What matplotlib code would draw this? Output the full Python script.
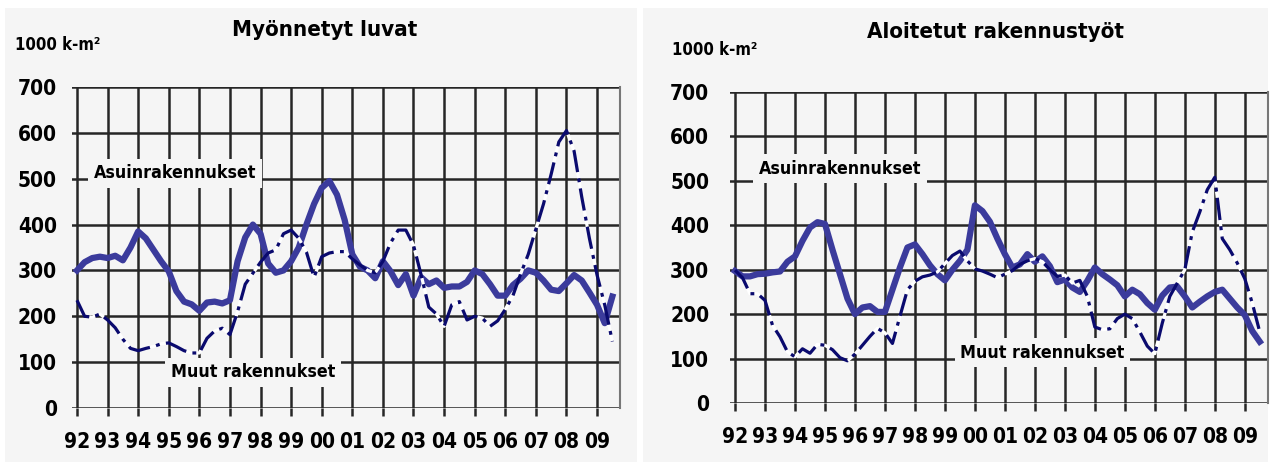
import numpy as np
import matplotlib
matplotlib.use("Agg")
import matplotlib.pyplot as plt
from matplotlib.patches import Rectangle

plt.rcParams["font.family"] = ["DejaVu Sans"]
plt.rcParams["font.stretch"] = "condensed"
plt.rcParams["font.weight"] = "bold"

# quarterly data 1992Q1 .. 2009Q3, 1000 k-m2
years = ["92", "93", "94", "95", "96", "97", "98", "99", "00",
         "01", "02", "03", "04", "05", "06", "07", "08", "09"]

# Myönnetyt luvat
permits_res = [300, 318, 327, 330, 327, 332, 322, 350, 385, 370, 345, 320,
               298, 255, 232, 226, 212, 230, 232, 228, 235, 320, 372, 400,
               380, 315, 295, 300, 320, 350, 400, 445, 480, 495, 465, 410,
               335, 308, 300, 283, 320, 298, 268, 292, 245, 285, 270, 278,
               262, 265, 265, 275, 300, 292, 270, 245, 245, 268, 282, 300,
               295, 278, 258, 255, 272, 290, 278, 252, 225, 185, 243]
permits_other = [235, 200, 198, 205, 192, 175, 150, 130, 125, 130, 134, 140,
                 142, 134, 125, 120, 120, 152, 168, 174, 160, 210, 270, 294,
                 318, 338, 345, 380, 388, 370, 340, 285, 330, 338, 341, 341,
                 325, 312, 300, 295, 320, 360, 388, 388, 355, 290, 220, 205,
                 178, 225, 232, 192, 200, 196, 178, 190, 215, 245, 292, 335,
                 390, 445, 510, 580, 605, 560, 460, 370, 290, 225, 145]

# Aloitetut rakennustyöt
starts_res = [297, 285, 285, 290, 291, 294, 296, 318, 330, 365, 395, 407,
              403, 345, 290, 235, 200, 215, 218, 205, 205, 255, 305, 350,
              357, 335, 310, 290, 276, 300, 320, 345, 445, 432, 408, 370,
              335, 305, 312, 335, 318, 330, 308, 272, 278, 260, 250, 275,
              305, 290, 278, 265, 240, 255, 245, 225, 210, 242, 260, 262,
              240, 215, 228, 240, 250, 255, 235, 215, 198, 162, 138]
starts_other = [299, 282, 246, 246, 231, 175, 149, 115, 104, 122, 112, 132,
                130, 120, 102, 95, 110, 130, 150, 168, 158, 134, 195, 255,
                274, 284, 288, 295, 314, 332, 342, 320, 302, 297, 290, 282,
                290, 298, 312, 320, 325, 318, 300, 285, 288, 270, 276, 240,
                171, 165, 167, 190, 200, 190, 160, 128, 111, 180, 240, 270,
                300, 385, 430, 480, 508, 370, 345, 315, 280, 225, 160]

solid_col = "#3b3b9c"
dash_col = "#0a0a6e"
bg = "#f5f5f5"

fig = plt.figure(figsize=(12.7, 4.7), dpi=100)
fig.patch.set_facecolor("white")
fig.patches.append(Rectangle((5 / 1270, 8 / 470), 632 / 1270, 454 / 470,
                             transform=fig.transFigure, facecolor=bg,
                             edgecolor="none", zorder=-10))
fig.patches.append(Rectangle((643 / 1270, 8 / 470), 625 / 1270, 454 / 470,
                             transform=fig.transFigure, facecolor=bg,
                             edgecolor="none", zorder=-10))


def draw(ax, res, other, xlim, ypad, lab1, lab2):
    q = np.arange(len(res))
    ax.set_facecolor(bg)
    ax.plot(q, res, color=solid_col, lw=4.5, solid_joinstyle="round", zorder=3)
    ax.plot(q, other, color=dash_col, lw=2.3, dashes=(7, 2, 1.2, 2),
            gapcolor="white", zorder=4)
    ax.set_xlim(*xlim)
    ax.set_ylim(0, 700)
    ax.set_yticks(range(0, 701, 100))
    ax.set_xticks(np.arange(0, 4 * len(years), 4))
    ax.set_xticklabels(years)
    ax.grid(True, color="#262626", lw=1.8, zorder=1)
    ax.set_axisbelow(True)
    for s in ["top", "left", "bottom"]:
        ax.spines[s].set_visible(False)
    ax.spines["right"].set_color("#777777")
    ax.spines["right"].set_linewidth(1.5)
    ax.tick_params(axis="x", length=6, width=1.8, color="#262626",
                   labelsize=15, pad=11)
    ax.tick_params(axis="y", length=0, labelsize=15, pad=ypad)
    for t in ax.get_xticklabels() + ax.get_yticklabels():
        t.set_fontweight("bold")
    ax.text(lab1[0], lab1[1], "Asuinrakennukset", fontsize=12.8,
            fontweight="bold", ha="center", va="center", zorder=5,
            bbox=dict(facecolor=bg, edgecolor="none", pad=4))
    ax.text(lab2[0], lab2[1], "Muut rakennukset", fontsize=12.8,
            fontweight="bold", ha="center", va="center", zorder=5,
            bbox=dict(facecolor=bg, edgecolor="none", pad=4))


ax1 = fig.add_axes([72 / 1270, 62 / 470, 548 / 1270, 321 / 470])
draw(ax1, permits_res, permits_other, (-0.65, 71.0), 11,
     (12.8, 512), (23.0, 78))

ax2 = fig.add_axes([730 / 1270, 67 / 470, 538 / 1270, 311 / 470])
draw(ax2, starts_res, starts_other, (-0.67, 71.1), 15,
     (14.0, 527), (41.0, 113))

fig.text(325 / 1270, 1 - 30 / 470, "Myönnetyt luvat", fontsize=16,
         fontweight="bold", ha="center", va="center")
fig.text(995 / 1270, 1 - 32 / 470, "Aloitetut rakennustyöt", fontsize=16,
         fontweight="bold", ha="center", va="center")
fig.text(15 / 1270, 1 - 45 / 470, "1000 k-m²", fontsize=12,
         fontweight="bold", ha="left", va="center")
fig.text(672 / 1270, 1 - 50 / 470, "1000 k-m²", fontsize=12,
         fontweight="bold", ha="left", va="center")

fig.savefig("out.png", dpi=100)
